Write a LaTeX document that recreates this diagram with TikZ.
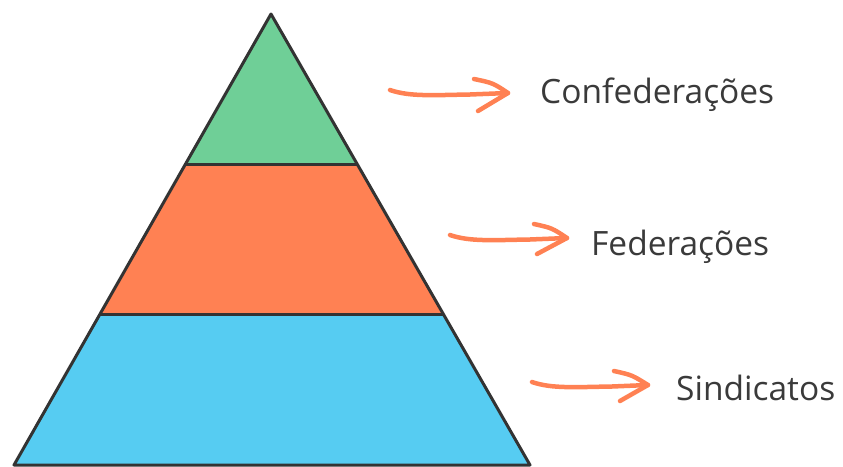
\documentclass[tikz,border=0pt]{standalone}
\usepackage{fontspec}
\setmainfont{Open Sans}
\usetikzlibrary{calc}
\definecolor{lgreen}{HTML}{6FCF97}
\definecolor{lorange}{HTML}{FF8153}
\definecolor{lblue}{HTML}{56CCF2}
\definecolor{ink}{HTML}{333333}
\definecolor{txt}{HTML}{3A3A3A}
\tikzset{
  layer/.style={draw=ink, line width=3pt, line join=round},
  handarrow/.style={draw=lorange, line width=4.5pt, line cap=round, line join=round},
  label/.style={anchor=base west, inner sep=0pt, text=txt, font=\fontsize{33.5}{38}\selectfont}
}
\begin{document}
\begin{tikzpicture}[x=1pt,y=-1pt]
\useasboundingbox (0,0) rectangle (843,466);
\coordinate (A) at (271,14);
\coordinate (BL) at (14,465);
\coordinate (BR) at (530,465);
\coordinate (L1) at ($(A)!1/3!(BL)$);
\coordinate (R1) at ($(A)!1/3!(BR)$);
\coordinate (L2) at ($(A)!2/3!(BL)$);
\coordinate (R2) at ($(A)!2/3!(BR)$);
\fill[lblue] (L2) -- (R2) -- (BR) -- (BL) -- cycle;
\fill[lorange] (L1) -- (R1) -- (R2) -- (L2) -- cycle;
\fill[lgreen] (A) -- (R1) -- (L1) -- cycle;
\draw[layer] (L1) -- (R1);
\draw[layer] (L2) -- (R2);
\draw[layer] (BL) -- (A) -- (BR) -- cycle;
% labels
\node[label] (t1) at (540,103) {Confederações};
\node[label] (t2) at (591,255) {Federações};
\node[label] (t3) at (676,400) {Sindicatos};
% arrows
\coordinate (s1) at (390,90);  \coordinate (p1) at (508,93);
\coordinate (s2) at (450,235); \coordinate (p2) at (567,238);
\coordinate (s3) at (532,382); \coordinate (p3) at (648,385);
\draw[handarrow] (s1) .. controls (410,97) and (435,95) .. (470,94.5) -- (p1);
\draw[handarrow] (474,79) .. controls (493,83) .. (p1) -- (478,111);
\draw[handarrow] (s2) .. controls (470,242) and (495,240) .. (530,239.5) -- (p2);
\draw[handarrow] (534,224) .. controls (552,228) .. (p2) -- (537,254);
\draw[handarrow] (s3) .. controls (552,389) and (577,387) .. (612,386.5) -- (p3);
\draw[handarrow] (614,371) .. controls (632,375) .. (p3) -- (620,401);
\end{tikzpicture}
\end{document}
